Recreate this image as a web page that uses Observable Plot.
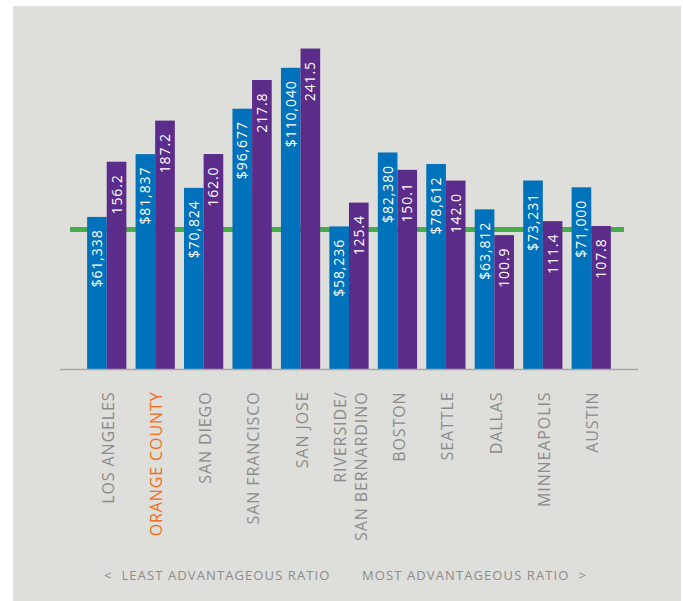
<!DOCTYPE html>
<html>
<head>
<meta charset="utf-8">
<script src="https://cdn.jsdelivr.net/npm/d3@7"></script>
<script src="https://cdn.jsdelivr.net/npm/@observablehq/plot@0.6"></script>
<style>
  html, body { margin: 0; padding: 0; background: #ffffff; }
  #panel { position: absolute; left: 13px; top: 6px; width: 668px; height: 595px; background: #dededa; }
  #chart svg { display: block; background: transparent; }
  .caption { position: absolute; top: 560px; font-family: "Open Sans", sans-serif; font-size: 13px; color: #8c8c8c; letter-spacing: 1.1px; white-space: pre; line-height: 18px; }
</style>
</head>
<body>
<div id="panel">
  <div id="chart"></div>
  <div class="caption" id="capL" style="left:91px;"></div>
  <div class="caption" id="capR" style="right:94px;"></div>
</div>
<script>
// ---- data ----
const cities = ["LOS ANGELES", "ORANGE COUNTY", "SAN DIEGO", "SAN FRANCISCO", "SAN JOSE",
  "RIVERSIDE/\nSAN BERNARDINO", "BOSTON", "SEATTLE", "DALLAS", "MINNEAPOLIS", "AUSTIN"];
const income = [61338, 81837, 70824, 96677, 110040, 58236, 82380, 78612, 63812, 73231, 71000];
const incomeLabels = ["$61,338", "$81,837", "$70,824", "$96,677", "$110,040", "$58,236", "$82,380", "$78,612", "$63,812", "$73,231", "$71,000"];
const ratio = [156.2, 187.2, 162.0, 217.8, 241.5, 125.4, 150.1, 142.0, 100.9, 111.4, 107.8];
const ratioLabels = ["156.2", "187.2", "162.0", "217.8", "241.5", "125.4", "150.1", "142.0", "100.9", "111.4", "107.8"];
const highlight = "ORANGE COUNTY";
const referenceLevel = 105.6;          // green reference line, in ratio units
const captionLeft = "<  LEAST ADVANTAGEOUS RATIO";
const captionRight = "MOST ADVANTAGEOUS RATIO  >";

// income bars share the chart with the ratio bars via a secondary linear scale
const incomeToRatio = d3.scaleLinear().domain([11670, 110040]).range([0, 227.0]);

const blue = "#0072bb", purple = "#5b2c8a", green = "#45ad4b", grey = "#8c8c8c", orange = "#f26f21";

const rows = cities.map((c, i) => ({
  city: c, income: income[i], incomeY: incomeToRatio(income[i]), incomeLabel: incomeLabels[i],
  ratio: ratio[i], ratioLabel: ratioLabels[i]
}));

const font = "'Open Sans', sans-serif";
const chart = Plot.plot({
  width: 668,
  height: 560,
  marginLeft: 47,
  marginRight: 43,
  marginTop: 18,
  marginBottom: 197,
  style: { background: "transparent", fontFamily: font },
  x: { domain: cities, paddingInner: 0.19, paddingOuter: 0.56, round: false, axis: null },
  y: { domain: [0, 260], axis: null },
  marks: [
    Plot.ruleY([referenceLevel], { stroke: green, strokeWidth: 5, insetLeft: 10, insetRight: 14 }),
    Plot.barY(rows, { x: "city", y: "incomeY", fill: blue, insetRight: 19.6 }),
    Plot.barY(rows, { x: "city", y: "ratio", fill: purple, insetLeft: 19.6 }),
    Plot.ruleY([0], { stroke: "#a8a8a8", strokeWidth: 1.5 }),
    Plot.text(rows, { x: "city", y: "incomeY", text: "incomeLabel", rotate: -90, textAnchor: "end",
      dx: -9.8, dy: 12, fill: "white", fontSize: 14, fontFamily: font }),
    Plot.text(rows, { x: "city", y: "ratio", text: "ratioLabel", rotate: -90, textAnchor: "end",
      dx: 9.8, dy: 12, fill: "white", fontSize: 14, fontFamily: font }),
    Plot.text(cities.filter(c => c !== highlight), { x: d => d, y: 0, text: d => d, rotate: -90, textAnchor: "end",
      dy: 22, fill: grey, fontSize: 16, fontFamily: font, lineHeight: 1.3 }),
    Plot.text(cities.filter(c => c === highlight), { x: d => d, y: 0, text: d => d, rotate: -90, textAnchor: "end",
      dy: 22, fill: orange, fontSize: 16, fontFamily: font, lineHeight: 1.3 })
  ]
});
d3.select(chart).selectAll("text").style("letter-spacing", "0.9px");
document.getElementById("chart").appendChild(chart);
document.getElementById("capL").textContent = captionLeft;
document.getElementById("capR").textContent = captionRight;
</script>
</body>
</html>
